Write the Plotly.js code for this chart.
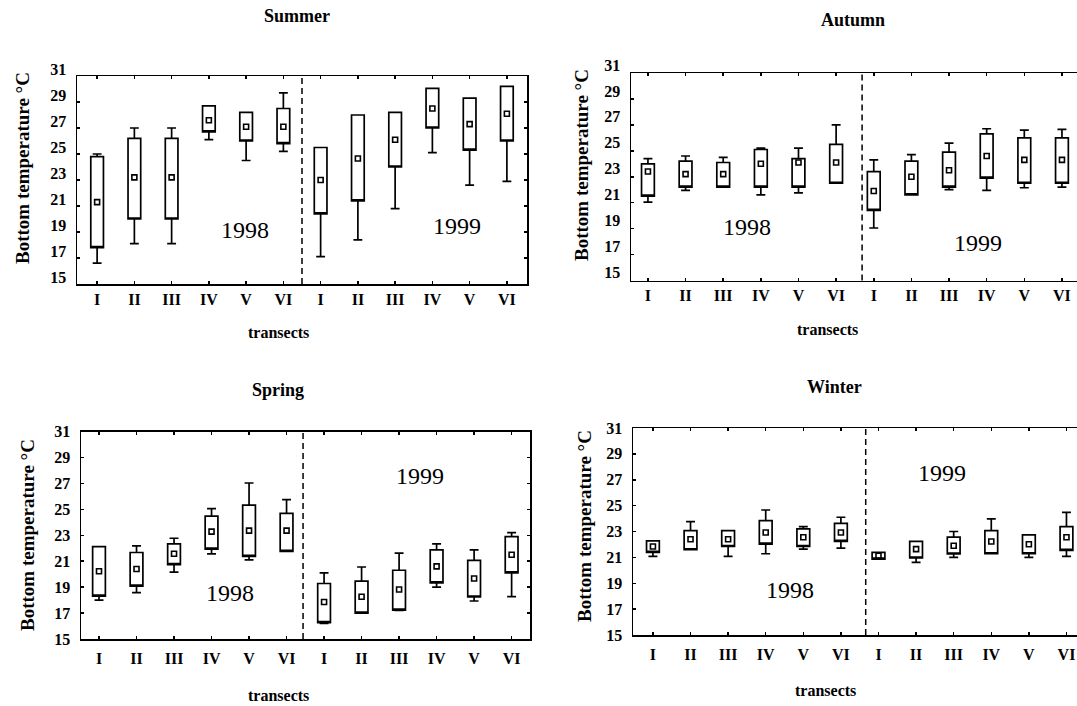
<!DOCTYPE html>
<html>
<head>
<meta charset="utf-8">
<script src="https://cdn.plot.ly/plotly-3.0.1.min.js"></script>
<style>html,body{margin:0;padding:0;background:#fff;}#chart{width:1077px;height:706px;}</style>
</head>
<body>
<div id="chart"></div>
<script>
// ---------- data ----------
const transects = ['I','II','III','IV','V','VI','I','II','III','IV','V','VI'];
const positions = [0,1,2,3,4,5,6,7,8,9,10,11];
const yTicks = [15,17,19,21,23,25,27,29,31];

const summerMax = [25.0, 27.0, 27.0, 28.7, 28.2, 29.7, 25.5, 28.0, 28.2, 30.05, 29.3, 30.2];
const summerQ3  = [24.8, 26.2, 26.2, 28.7, 28.2, 28.5, 25.5, 28.0, 28.2, 30.05, 29.3, 30.2];
const summerMed = [21.3, 23.2, 23.2, 27.6, 27.1, 27.1, 23.0, 24.65, 26.1, 28.5, 27.3, 28.1];
const summerQ1  = [17.8, 20.0, 20.0, 26.7, 26.0, 25.8, 20.4, 21.4, 24.0, 27.0, 25.3, 26.0];
const summerMin = [16.6, 18.1, 18.1, 26.1, 24.5, 25.2, 17.1, 18.4, 20.8, 25.1, 22.6, 22.9];

const autumnMax = [24.4, 24.6, 24.5, 25.2, 25.2, 27.0, 24.3, 24.7, 25.6, 26.7, 26.6, 26.65];
const autumnQ3  = [24.0, 24.2, 24.1, 25.1, 24.4, 25.5, 23.4, 24.2, 24.9, 26.3, 26.0, 26.0];
const autumnMed = [23.4, 23.2, 23.2, 24.0, 24.1, 24.1, 21.9, 23.0, 23.5, 24.6, 24.3, 24.3];
const autumnQ1  = [21.5, 22.2, 22.2, 22.2, 22.2, 22.5, 20.4, 21.6, 22.2, 22.9, 22.5, 22.5];
const autumnMin = [21.05, 21.95, 22.2, 21.6, 21.75, 22.5, 19.05, 21.6, 22.0, 21.95, 22.15, 22.2];

const springMax = [22.13, 22.18, 22.77, 25.06, 27.03, 25.75, 20.1, 20.55, 21.62, 22.34, 21.88, 23.2];
const springQ3  = [22.13, 21.67, 22.34, 24.48, 25.32, 24.68, 19.28, 19.46, 20.3, 21.88, 21.06, 22.9];
const springMed = [20.22, 20.4, 21.57, 23.28, 23.36, 23.36, 17.85, 18.26, 18.82, 20.6, 19.66, 21.5];
const springQ1  = [18.31, 19.08, 20.73, 21.93, 21.37, 21.75, 16.27, 16.99, 17.22, 19.33, 18.24, 20.1];
const springMin = [18.0, 18.57, 20.15, 21.57, 21.1, 21.75, 16.2, 16.99, 17.2, 19.0, 17.93, 18.26];

const winterMax = [22.28, 23.76, 23.07, 24.66, 23.38, 24.1, 21.38, 22.23, 23.0, 23.97, 22.74, 24.48];
const winterQ3  = [22.28, 23.07, 23.07, 23.84, 23.2, 23.63, 21.38, 22.23, 22.56, 23.07, 22.74, 23.38];
const winterMed = [21.84, 22.4, 22.4, 22.92, 22.56, 22.92, 21.13, 21.64, 21.9, 22.23, 22.02, 22.56];
const winterQ1  = [21.38, 21.59, 21.84, 22.02, 21.84, 22.23, 20.87, 20.95, 21.26, 21.28, 21.28, 21.54];
const winterMin = [21.08, 21.59, 21.08, 21.28, 21.64, 21.72, 20.87, 20.62, 21.0, 21.28, 21.0, 21.08];

const seasonNames = ['Summer', 'Autumn', 'Spring', 'Winter'];
const yearLabels = ['1998', '1999'];
const yTitle = 'Bottom temperature \u00B0C';
const xTitle = 'transects';

// ---------- styling / layout ----------
const W = 1077, H = 706;
const SERIF = 'Liberation Serif, Times New Roman, serif';
const px = x => x / W;
const py = y => 1 - y / H;

const panels = [
  {name: seasonNames[0], max: summerMax, q3: summerQ3, med: summerMed, q1: summerQ1, min: summerMin,
   xr: [77, 527], yr: [76, 284], range: [-0.54, 11.54], divider: 5.5, mirror: 'allticks', shift: -7, standoff: 0,
   title: [297, 16], xt: [278, 333], yt: [22, 168],
   years: [[3.97, 19.15], [9.66, 19.5]]},
  {name: seasonNames[1], max: autumnMax, q3: autumnQ3, med: autumnMed, q1: autumnQ1, min: autumnMin,
   xr: [631, 1077], yr: [73, 280.5], range: [-0.45, 11.40], divider: 5.69, mirror: false, shift: -8, standoff: 0,
   title: [853, 20], xt: [827, 330], yt: [582, 165],
   years: [[2.63, 19.1], [8.78, 17.9]]},
  {name: seasonNames[2], max: springMax, q3: springQ3, med: springMed, q1: springQ1, min: springMin,
   xr: [81, 530], yr: [431.5, 639], range: [-0.48, 11.49], divider: 5.44, mirror: 'allticks', shift: 0, standoff: 4,
   title: [278, 390], xt: [278, 695], yt: [27, 535],
   years: [[3.49, 18.55], [8.56, 27.57]]},
  {name: seasonNames[3], max: winterMax, q3: winterQ3, med: winterMed, q1: winterQ1, min: winterMin,
   xr: [633, 1077], yr: [428, 635], range: [-0.53, 11.28], divider: 5.66, mirror: false, shift: 0, standoff: 4,
   title: [834, 387], xt: [825, 690], yt: [584, 526],
   years: [[3.64, 18.48], [7.69, 27.5]]}
];

const data = [];
const layout = {
  width: W, height: H,
  margin: {l: 0, r: 0, t: 0, b: 0},
  paper_bgcolor: '#fff', plot_bgcolor: '#fff',
  showlegend: false,
  font: {family: SERIF, color: '#000'},
  shapes: [], annotations: []
};

panels.forEach((p, i) => {
  const n = i === 0 ? '' : String(i + 1);
  const xa = 'x' + n, ya = 'y' + n;
  data.push({
    type: 'box', xaxis: xa, yaxis: ya,
    x: positions,
    q1: p.q1, median: p.q1, q3: p.q3,
    lowerfence: p.min, upperfence: p.max,
    width: 0.34, whiskerwidth: 0.7,
    line: {color: '#000', width: 1.7},
    fillcolor: 'rgba(0,0,0,0)',
    boxpoints: false, hoverinfo: 'skip'
  });
  data.push({
    type: 'scatter', mode: 'markers', xaxis: xa, yaxis: ya,
    x: positions, y: p.med,
    marker: {symbol: 'square-open', size: 5, color: '#000', line: {width: 1.6, color: '#000'}},
    hoverinfo: 'skip'
  });
  layout['xaxis' + n] = {
    domain: [px(p.xr[0]), px(p.xr[1])], anchor: ya,
    range: p.range, tickvals: positions, ticktext: transects,
    showgrid: false, zeroline: false,
    showline: true, linecolor: '#000', linewidth: 1.5, mirror: 'allticks',
    ticks: 'inside', ticklen: 3, tickwidth: 1.5, tickcolor: '#000',
    ticklabelstandoff: p.standoff,
    tickfont: {family: SERIF, size: 16, weight: 'bold', color: '#000'}
  };
  layout['yaxis' + n] = {
    domain: [py(p.yr[1]), py(p.yr[0])], anchor: xa,
    range: [15, 31], tickvals: yTicks,
    showgrid: false, zeroline: false,
    showline: true, linecolor: '#000', linewidth: 1.5, mirror: p.mirror,
    ticks: 'inside', ticklen: 3, tickwidth: 1.5, tickcolor: '#000',
    ticklabelshift: p.shift, ticklabelstandoff: 6,
    tickfont: {family: SERIF, size: 16, weight: 'bold', color: '#000'}
  };
  layout.shapes.push({
    type: 'line', xref: xa, yref: ya + ' domain',
    x0: p.divider, x1: p.divider, y0: 0, y1: 1,
    line: {color: '#000', width: 1.5, dash: '6px,4px'}
  });
  layout.annotations.push({
    text: p.name, xref: 'paper', yref: 'paper', x: px(p.title[0]), y: py(p.title[1]),
    xanchor: 'center', yanchor: 'middle', showarrow: false,
    font: {family: SERIF, size: 18, weight: 'bold', color: '#000'}
  });
  layout.annotations.push({
    text: xTitle, xref: 'paper', yref: 'paper', x: px(p.xt[0]), y: py(p.xt[1]),
    xanchor: 'center', yanchor: 'middle', showarrow: false,
    font: {family: SERIF, size: 16, weight: 'bold', color: '#000'}
  });
  layout.annotations.push({
    text: yTitle, xref: 'paper', yref: 'paper', x: px(p.yt[0]), y: py(p.yt[1]),
    xanchor: 'center', yanchor: 'middle', showarrow: false, textangle: -90,
    font: {family: SERIF, size: 19, weight: 'bold', color: '#000'}
  });
  p.years.forEach((pos, k) => {
    layout.annotations.push({
      text: yearLabels[k], xref: xa, yref: ya, x: pos[0], y: pos[1],
      xanchor: 'center', yanchor: 'middle', showarrow: false,
      font: {family: SERIF, size: 24, color: '#000'}
    });
  });
});

Plotly.newPlot('chart', data, layout, {staticPlot: true, displayModeBar: false});
</script>
</body>
</html>
